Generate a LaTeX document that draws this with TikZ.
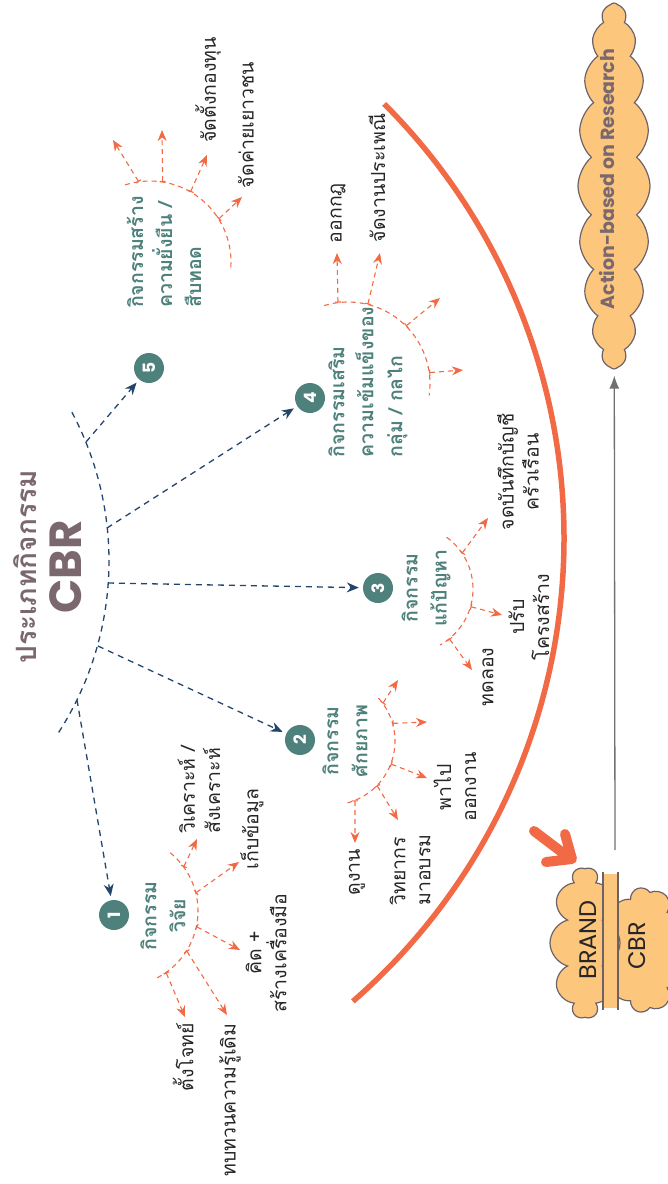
\documentclass[tikz,border=0pt]{standalone}
\usepackage{fontspec}
\setmainfont[Script=Thai]{Loma}
\newfontfamily\latin{Poppins}
\usetikzlibrary{arrows.meta,shapes.symbols}
\definecolor{mauve}{HTML}{7A686E}
\definecolor{tealc}{HTML}{4E817C}
\definecolor{navy}{HTML}{24456B}
\definecolor{tomato}{HTML}{F26A45}
\definecolor{cloudfill}{HTML}{FCC67D}
\definecolor{cloudline}{HTML}{6E6268}
\definecolor{greyline}{HTML}{707070}
\begin{document}
\begin{tikzpicture}[x=1pt, y=-1pt,
  num node/.style={circle,fill=tealc,text=white,minimum size=30pt,inner sep=0pt,rotate=90,font=\latin\bfseries\fontsize{17}{17}\selectfont},
  head node/.style={rotate=90,text=tealc,inner sep=0pt,font=\bfseries\fontsize{19.5}{29}\selectfont},
  item node/.style={rotate=90,text=black!85,inner sep=0pt,font=\fontsize{19.5}{25}\selectfont},
  type arrow/.style={draw=navy,line width=1.3pt,dash pattern=on 6pt off 5pt,-{Stealth[length=12pt,width=10pt]},shorten >=4pt},
  fan arc/.style={draw=tomato,line width=1.1pt,dash pattern=on 5pt off 4pt},
  fan arrow/.style={draw=tomato,line width=1.1pt,dash pattern=on 5pt off 4pt,{Bar[width=6pt]}-{Stealth[length=11pt,width=9pt]}},
  puff/.style={cloud,draw=cloudline,fill=cloudfill,line width=1.2pt,rotate=90,inner sep=0pt}]
\useasboundingbox (0,0) rectangle (668,1184);
\clip (0,0) rectangle (668,1184);

\node [rotate=90,text=mauve,font=\bfseries\fontsize{28}{28}\selectfont] (title) at (25,567) {ประเภทกิจกรรม};
\node [rotate=90,text=mauve,font=\latin\bfseries\fontsize{45}{45}\selectfont] (cbr) at (66,567) {CBR};

\draw [navy,line width=1.3pt,dash pattern=on 6pt off 5pt] (-208,561) ++(-28:317) arc[start angle=-28,end angle=33,radius=317];
\coordinate (b5) at (86,442);
\coordinate (b4) at (107,528);
\coordinate (b3) at (108,583);
\coordinate (b2) at (98,646);
\coordinate (b1) at (77,700);

\node [num node] (n1) at (114,915) {1};
\node [num node] (n2) at (300,740) {2};
\node [num node] (n3) at (378,588) {3};
\node [num node] (n4) at (310,398) {4};
\node [num node] (n5) at (149,368) {5};
\path [every edge/.style={type arrow}]
    (b1) edge (n1)
    (b2) edge (n2)
    (b3) edge (n3)
    (b4) edge (n4)
    (b5) edge (n5)
         ;

\node [head node,align=center] (h1) at (163,916) {กิจกรรม\\วิจัย};
\node [head node,align=center] (h2) at (345,741) {กิจกรรม\\ศักยภาพ};
\node [head node,align=center] (h3) at (426,588) {กิจกรรม\\แก้ปัญหา};
\node [head node,align=left] (h4) at (368,382) {กิจกรรมเสริม\\ความเข้มแข็งของ\\กลุ่ม / กลไก};
\node [head node,align=left] (h5) at (164,252) {กิจกรรมสร้าง\\ความยั่งยืน /\\สืบทอด};

% fan 1
\coordinate (c1) at (123,911);
\draw [fan arc] (c1) ++(-51:75) arc[start angle=-51,end angle=63,radius=75];
\coordinate (f1a) at ([shift={(-36:75)}]c1);
\coordinate (f1b) at ([shift={(-14:75)}]c1);
\coordinate (f1c) at ([shift={(12:75)}]c1);
\coordinate (f1d) at ([shift={(32:75)}]c1);
\coordinate (f1e) at ([shift={(55:75)}]c1);
\coordinate (t1a) at (197,839);
\coordinate (t1b) at (239,862);
\coordinate (t1c) at (240,950);
\coordinate (t1d) at (227,1015);
\coordinate (t1e) at (185,1017);
\path [every edge/.style={fan arrow}] (f1a) edge (t1a) (f1b) edge (t1b) (f1c) edge (t1c) (f1d) edge (t1d) (f1e) edge (t1e);
\node [item node,align=left] (i1a) at (199,790) {วิเคราะห์ /\\สังเคราะห์};
\node [item node] (i1b) at (252,829) {เก็บข้อมูล};
\node [item node,align=center] (i1c) at (266,953) {คิด +\\สร้างเครื่องมือ};
\node [item node] (i1d) at (230,1100) {ทบทวนความรู้เดิม};
\node [item node] (i1e) at (183,1057) {ตั้งโจทย์};

% fan 2
\coordinate (c2) at (331,741);
\draw [fan arc] (c2) ++(-42:64) arc[start angle=-42,end angle=75,radius=64];
\coordinate (f2a) at ([shift={(-36:64)}]c2);
\coordinate (f2b) at ([shift={(-16:64)}]c2);
\coordinate (f2c) at ([shift={(21:64)}]c2);
\coordinate (f2d) at ([shift={(44:64)}]c2);
\coordinate (f2e) at ([shift={(68:64)}]c2);
\coordinate (t2a) at (398,680);
\coordinate (t2b) at (427,722);
\coordinate (t2c) at (427,778);
\coordinate (t2d) at (398,820);
\coordinate (t2e) at (355,843);
\path [every edge/.style={fan arrow}] (f2a) edge (t2a) (f2b) edge (t2b) (f2c) edge (t2c) (f2d) edge (t2d) (f2e) edge (t2e);
\node [item node,align=center] (i2c) at (455,787) {พาไป\\ออกงาน};
\node [item node,align=left] (i2d) at (410,870) {วิทยากร\\มาอบรม};
\node [item node] (i2e) at (357,872) {ดูงาน};

% fan 3
\coordinate (c3) at (409,589);
\draw [fan arc] (c3) ++(-54:64) arc[start angle=-54,end angle=61,radius=64];
\coordinate (f3a) at ([shift={(-34:64)}]c3);
\coordinate (f3b) at ([shift={(16:64)}]c3);
\coordinate (f3c) at ([shift={(51:64)}]c3);
\coordinate (t3a) at (488,518);
\coordinate (t3b) at (502,615);
\coordinate (t3c) at (472,670);
\path [every edge/.style={fan arrow}] (f3a) edge (t3a) (f3b) edge (t3b) (f3c) edge (t3c);
\node [item node,align=center] (i3a) at (518,472) {จดบันทึกบัญชี\\ครัวเรือน};
\node [item node,align=center] (i3b) at (529,617) {ปรับ\\โครงสร้าง};
\node [item node] (i3c) at (488,677) {ทดลอง};

% fan 4
\coordinate (c4) at (348,384);
\draw [fan arc] (c4) ++(-107:82) arc[start angle=-107,end angle=8,radius=82];
\coordinate (f4a) at ([shift={(-97:82)}]c4);
\coordinate (f4b) at ([shift={(-76:82)}]c4);
\coordinate (f4c) at ([shift={(-45:82)}]c4);
\coordinate (f4d) at ([shift={(-8:82)}]c4);
\coordinate (t4a) at (337,253);
\coordinate (t4b) at (380,253);
\coordinate (t4c) at (440,298);
\coordinate (t4d) at (463,370);
\path [every edge/.style={fan arrow}] (f4a) edge (t4a) (f4b) edge (t4b) (f4c) edge (t4c) (f4d) edge (t4d);
\node [item node] (i4a) at (338,213) {ออกกฎ};
\node [item node] (i4b) at (377,178) {จัดงานประเพณี};

% fan 5
\coordinate (c5) at (150,262);
\draw [fan arc] (c5) ++(-108:81) arc[start angle=-108,end angle=6,radius=81];
\coordinate (f5a) at ([shift={(-98:81)}]c5);
\coordinate (f5b) at ([shift={(-81:81)}]c5);
\coordinate (f5c) at ([shift={(-60:81)}]c5);
\coordinate (f5d) at ([shift={(-32:81)}]c5);
\coordinate (t5a) at (113,140);
\coordinate (t5b) at (162,130);
\coordinate (t5c) at (207,155);
\coordinate (t5d) at (242,197);
\path [every edge/.style={fan arrow}] (f5a) edge (t5a) (f5b) edge (t5b) (f5c) edge (t5c) (f5d) edge (t5d);
\node [item node] (i5c) at (208,90) {จัดตั้งกองทุน};
\node [item node] (i5d) at (246,125) {จัดค่ายเยาวชน};

\draw [tomato,line width=5.5pt] (-50,538) ++(-45:614) arc[start angle=-45,end angle=49,radius=614];

% clouds
\node [puff,minimum width=366pt,minimum height=72pt,cloud puffs=20,cloud puff arc=100,aspect=5] (action) at (614,186) {};
\node [rotate=90,text=mauve,font=\latin\bfseries\fontsize{19}{19}\selectfont] (actiontext) at (607,179) {Action-based on Research};
\node [puff,minimum width=125pt,minimum height=85pt,cloud puffs=9,aspect=1.4] (rightlobe) at (645,950) {};
\node [puff,minimum width=150pt,minimum height=70pt,cloud puffs=10,aspect=2] (leftlobe) at (585,943) {};
\fill [cloudfill] (603,874) rectangle (618,1008);
\draw [cloudline,line width=1.2pt] (603,872) -- (603,1010) (618,872) -- (618,1010);
\node [rotate=90,text=black!85,font=\latin\fontsize{24}{24}\selectfont] (brand) at (588,940) {BRAND};
\node [rotate=90,text=black!85,font=\latin\fontsize{24}{24}\selectfont] (brandcbr) at (637,946) {CBR};

\coordinate (g0) at (615,850);
\draw [greyline,line width=1.3pt,-{Latex[length=13pt,width=10pt]},shorten >=6pt] (g0) -- (action);

\coordinate (k1) at (534,831);
\coordinate (k2) at (567,856);
\coordinate (k3) at (565,834);
\coordinate (k4) at (572,859);
\coordinate (k5) at (546,862);
\draw [tomato,line width=10pt,line cap=round,line join=round] (k1) -- (k2) (k3) -- (k4) -- (k5);
\end{tikzpicture}
\end{document}
